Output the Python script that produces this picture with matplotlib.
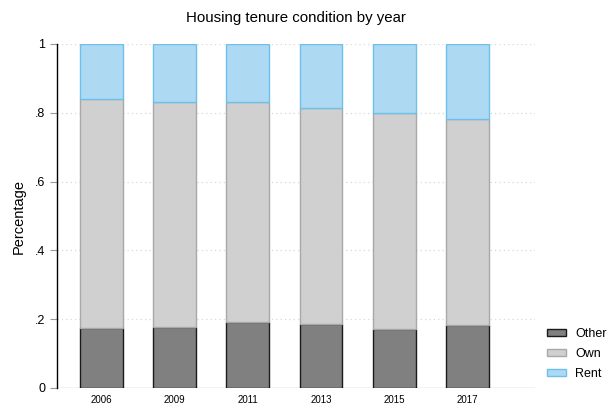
import numpy as np
import matplotlib
matplotlib.use("Agg")
import matplotlib.pyplot as plt
from matplotlib.patches import Patch

plt.rcParams['font.family'] = ['Liberation Sans', 'DejaVu Sans']

# Shares by year
years = ["2006", "2009", "2011", "2013", "2015", "2017"]
other = [0.174, 0.176, 0.191, 0.186, 0.172, 0.182]
own = [0.666, 0.655, 0.641, 0.628, 0.628, 0.599]
rent = [0.160, 0.169, 0.168, 0.186, 0.200, 0.219]
yticks = [0, 0.2, 0.4, 0.6, 0.8, 1.0]
ytick_labels = ["0", ".2", ".4", ".6", ".8", "1"]

W, H = 610, 405
fig = plt.figure(figsize=(W / 100, H / 100), dpi=100)
ax = fig.add_axes([56.5 / W, (H - 388) / H, (535 - 56.5) / W, (388 - 44) / H])

x = np.arange(len(years))
other = np.array(other)
own = np.array(own)
rent = np.array(rent)
width = 0.587

ax.bar(x, other, width, color="#808080", edgecolor="#1a1a1a", linewidth=1.0, zorder=3)
ax.bar(x, own, width, bottom=other, color="#d0d0d0", edgecolor="#a8a8a8", linewidth=1.0, zorder=3)
ax.bar(x, rent, width, bottom=other + own, color="#add9f3", edgecolor="#6ec0ec", linewidth=1.0, zorder=3)

ax.set_xlim(-0.615, 5.925)
ax.set_ylim(0, 1)
ax.set_yticks(yticks)
ax.set_yticklabels(ytick_labels, fontsize=9)
ax.set_xticks(x)
ax.set_xticklabels(years, fontsize=7)
ax.tick_params(axis="x", length=0, pad=5)
ax.tick_params(axis="y", length=5, width=0.8, color="#999999", pad=3)

ax.yaxis.grid(True, linestyle=(0, (1, 2.5)), color="#d8d8d8", linewidth=0.9, zorder=0)
for s in ["top", "right", "bottom"]:
    ax.spines[s].set_visible(False)
ax.spines["left"].set_linewidth(1.0)
ax.spines["left"].set_color("black")
ax.axhline(0, color="#c8c8c8", linewidth=1.0, zorder=2)

ax.set_ylabel("Percentage", fontsize=10.5, labelpad=7)
fig.text(296 / W, 1 - 18 / H, "Housing tenure condition by year", ha="center", va="center", fontsize=10.8)

handles = [
    Patch(facecolor="#808080", edgecolor="#1a1a1a", label="Other"),
    Patch(facecolor="#d0d0d0", edgecolor="#a8a8a8", label="Own"),
    Patch(facecolor="#add9f3", edgecolor="#6ec0ec", label="Rent"),
]
fig.legend(handles=handles, loc="center left", bbox_to_anchor=(547 / W, 1 - 354 / H),
           frameon=False, fontsize=9, handlelength=1.5, handleheight=0.5,
           handletextpad=0.75, labelspacing=0.65, borderpad=0, borderaxespad=0)

fig.savefig("out.png", dpi=100)
